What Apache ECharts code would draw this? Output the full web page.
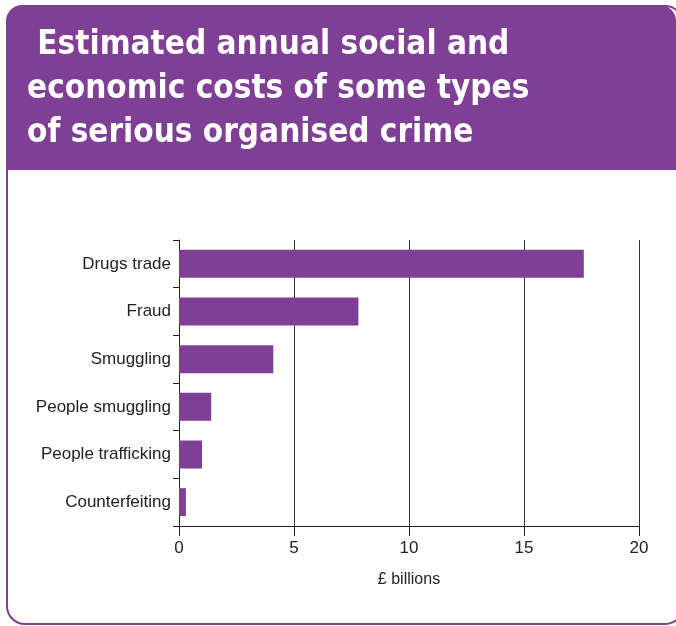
<!DOCTYPE html>
<html><head><meta charset="utf-8">
<script src="https://cdn.jsdelivr.net/npm/echarts@6/dist/echarts.min.js"></script>
<style>html,body{margin:0;padding:0;background:#fff}#c{width:676px;height:626px}</style>
</head><body><div id="c"></div>
<script>
const categories = ['Drugs trade','Fraud','Smuggling','People smuggling','People trafficking','Counterfeiting'];
const costs = [17.6, 7.8, 4.1, 1.4, 1.0, 0.3];
const xTicks = [0, 5, 10, 15, 20];
const titleText = ' Estimated annual social and\neconomic costs of some types\nof serious organised crime';
const axisName = '£ billions';
const purple = '#7E3F94';

const chart = echarts.init(document.getElementById('c'), null, {renderer:'canvas'});
chart.setOption({
  animation:false,
  backgroundColor:'#fff',
  graphic:[
    {type:'rect', shape:{x:7,y:6,width:676,height:618,r:18}, style:{fill:'#fff',stroke:purple,lineWidth:2}, z:0},
    {type:'rect', shape:{x:6,y:5,width:670,height:165,r:[16,16,0,0]}, style:{fill:purple}, z:1},
    {type:'text', left:27, top:23, style:{text:titleText, fill:'#fff', font:'bold 33px "DejaVu Sans Condensed",sans-serif', lineHeight:44}, z:2}
  ],
  grid:{left:179, right:37, top:240, bottom:100, containLabel:false},
  xAxis:{
    type:'value', min:xTicks[0], max:xTicks[xTicks.length-1], interval:5,
    axisLine:{show:true, lineStyle:{color:'#222', width:1}},
    axisTick:{show:true, length:10, lineStyle:{color:'#222'}},
    splitLine:{show:true, lineStyle:{color:'#333', width:1}},
    axisLabel:{fontSize:17, color:'#222', fontFamily:'Liberation Sans', margin:14},
    name:axisName, nameLocation:'middle', nameGap:46,
    nameTextStyle:{fontSize:16, color:'#222', fontFamily:'Liberation Sans'}
  },
  yAxis:{
    type:'category', data:categories, inverse:true,
    axisLine:{show:true, lineStyle:{color:'#222', width:1}},
    axisTick:{show:true, length:6, lineStyle:{color:'#222'}},
    axisLabel:{fontSize:17, color:'#222', fontFamily:'Liberation Sans', margin:8}
  },
  series:[{type:'bar', data:costs, barWidth:28, itemStyle:{color:purple}, z:3}]
});
</script></body></html>
